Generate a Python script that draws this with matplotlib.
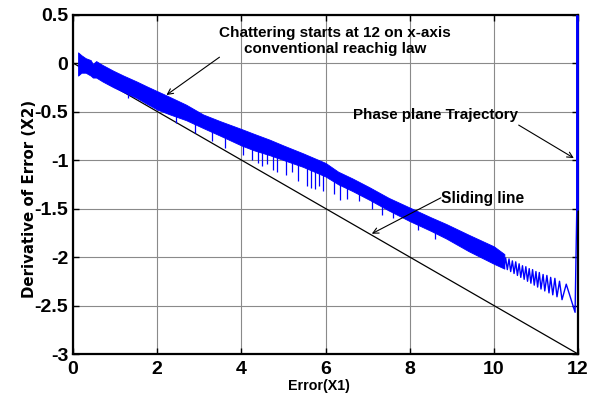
import numpy as np
import matplotlib as mpl
import matplotlib.pyplot as plt

mpl.rcParams.update({
    "font.family": ["Liberation Sans", "DejaVu Sans"],
    "font.weight": "bold",
    "axes.unicode_minus": False,
})

BLUE = "#0000ff"

# sliding line s = x2 + 0.25*x1 = 0, drawn over the error range
slide_x = [0.0, 12.0]
slide_y = [0.0, -3.0]

# chattering band (upper / lower edges of the phase trajectory)
band_x = [0.12, 0.2, 0.3, 0.42, 0.47, 0.55, 0.7, 0.96, 1.2, 1.51, 1.75, 2.0, 2.3,
          2.69, 3.09, 3.5, 4.0, 4.3, 4.67, 5.0, 5.46, 6.0, 6.3, 6.64, 7.04, 7.5,
          8.0, 8.5, 8.87, 9.4, 10.0, 10.25]
band_hi = [0.11, 0.08, 0.05, 0.03, -0.01, 0.02, -0.02, -0.08, -0.13, -0.19, -0.24,
           -0.29, -0.35, -0.43, -0.53, -0.60, -0.68, -0.73, -0.79, -0.85, -0.93,
           -1.03, -1.12, -1.19, -1.28, -1.39, -1.49, -1.59, -1.66, -1.77, -1.89, -1.97]
band_lo = [-0.13, -0.10, -0.10, -0.13, -0.15, -0.15, -0.19, -0.25, -0.30, -0.36,
           -0.42, -0.48, -0.53, -0.59, -0.67, -0.75, -0.85, -0.90, -0.95, -1.00,
           -1.07, -1.17, -1.25, -1.32, -1.41, -1.52, -1.63, -1.73, -1.81, -1.94,
           -2.07, -2.12]

# isolated downward spikes of the chattering
spike_x = [1.3, 2.45, 2.9, 3.3, 3.6, 4.05, 4.25, 4.4, 4.5, 4.62, 4.75, 4.85, 5.05,
           5.2, 5.35, 5.55, 5.65, 5.75, 5.85, 5.95, 6.2, 6.35, 6.5, 6.8, 7.1,
           7.35, 7.6, 8.2, 8.6]
spike_y = [-0.36, -0.62, -0.72, -0.80, -0.88, -0.95, -1.00, -1.03, -1.06, -1.04,
           -1.10, -1.12, -1.15, -1.12, -1.22, -1.27, -1.29, -1.30, -1.27, -1.32,
           -1.35, -1.41, -1.40, -1.42, -1.50, -1.57, -1.60, -1.72, -1.81]

# last teeth before the trajectory leaves along x1 = 12
tail_x = [10.20, 10.24, 10.28, 10.32, 10.36, 10.40, 10.44, 10.48, 10.52, 10.56,
          10.60, 10.64, 10.68, 10.72, 10.76, 10.80, 10.84, 10.88, 10.92, 10.96,
          11.00, 11.04, 11.08, 11.12, 11.17, 11.21, 11.26, 11.31, 11.35, 11.40,
          11.45, 11.50, 11.56, 11.62, 11.72, 11.93, 11.97, 11.975, 11.975]
tail_y = [-1.99, -2.11, -2.01, -2.13, -2.02, -2.15, -2.04, -2.17, -2.05, -2.19,
          -2.07, -2.21, -2.09, -2.23, -2.10, -2.25, -2.12, -2.27, -2.13, -2.29,
          -2.15, -2.31, -2.16, -2.33, -2.18, -2.35, -2.19, -2.37, -2.21, -2.39,
          -2.22, -2.41, -2.25, -2.44, -2.28, -2.57, -1.52, -1.52, 0.5]

x_ticks = [0, 2, 4, 6, 8, 10, 12]
y_ticks = [0.5, 0, -0.5, -1, -1.5, -2, -2.5, -3]
y_labels = ["0.5", "0", "-0.5", "-1", "-1.5", "-2", "-2.5", "-3"]

fig = plt.figure(figsize=(5.98, 4.01), dpi=100)
ax = fig.add_axes([0.1221, 0.1172, 0.8445, 0.8466])

ax.plot(slide_x, slide_y, color="black", lw=0.9, zorder=2)

ax.fill_between(band_x, band_lo, band_hi, color=BLUE, lw=0.6, zorder=3)
spike_top = np.interp(spike_x, band_x, band_lo) + 0.03
ax.vlines(spike_x, spike_y, spike_top, color=BLUE, lw=0.9, zorder=3)
ax.plot(tail_x, tail_y, color=BLUE, lw=1.0, zorder=3)
# trajectory entering along the right edge, drawn over the spine
ax.plot([11.975, 11.975], [0.5, -1.52], color=BLUE, lw=2.0, zorder=4,
        clip_on=False, solid_capstyle="butt")

ax.set_xlim(0, 12)
ax.set_ylim(-3, 0.5)
ax.set_xticks(x_ticks)
ax.set_xticklabels([str(t) for t in x_ticks])
ax.set_yticks(y_ticks)
ax.set_yticklabels(y_labels)
ax.tick_params(direction="in", length=4, width=1.0, top=True, right=True,
               labelsize=14)
ax.tick_params(axis="x", pad=5)
ax.tick_params(axis="y", pad=3.5)
for lab in ax.get_xticklabels() + ax.get_yticklabels():
    lab.set_fontweight("bold")
for sp in ax.spines.values():
    sp.set_linewidth(1.6)
ax.grid(True, color="#8a8a8a", lw=0.8, ls="-")
ax.set_axisbelow(True)

ax.set_xlabel("Error(X1)", fontsize=10.3, fontweight="bold", va="center")
ax.xaxis.set_label_coords(0.487, -0.094)
ax.set_ylabel("Derivative of Error (X2)", fontsize=10.8, fontweight="bold",
              va="center", family="DejaVu Sans")
ax.yaxis.set_label_coords(-0.087, 0.457)

arrow = dict(arrowstyle="->", color="black", lw=0.8, shrinkA=0, shrinkB=0)
ax.text(6.22, 0.23, "Chattering starts at 12 on x-axis\nconventional reachig law",
        fontsize=11, fontweight="bold", ha="center", va="center",
        linespacing=1.15, zorder=6)
ax.annotate("", xy=(2.22, -0.33), xytext=(3.48, 0.06), arrowprops=arrow, zorder=6)

ax.text(8.61, -0.536, "Phase plane Trajectory", fontsize=10.9, fontweight="bold",
        ha="center", va="center", zorder=6)
ax.annotate("", xy=(11.9, -0.98), xytext=(10.59, -0.64), arrowprops=arrow, zorder=6)

ax.text(9.73, -1.40, "Sliding line", fontsize=11.2, fontweight="bold",
        ha="center", va="center", zorder=6)
ax.annotate("", xy=(7.1, -1.76), xytext=(8.74, -1.39), arrowprops=arrow, zorder=6)

fig.savefig("out.png", dpi=100)
